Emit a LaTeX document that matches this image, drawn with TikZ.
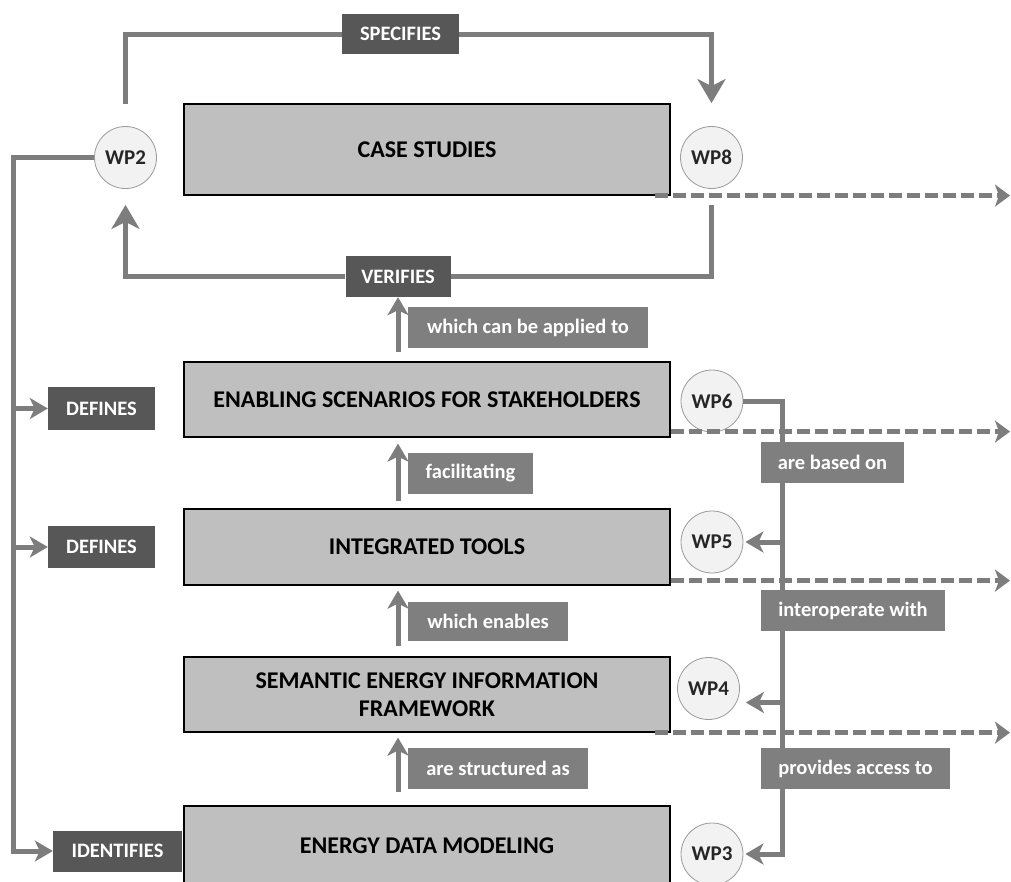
\documentclass[tikz,border=0pt]{standalone}
\usepackage{fontspec}
\setmainfont{Carlito}
\usetikzlibrary{arrows.meta}
\definecolor{boxgray}{HTML}{BFBFBF}
\definecolor{linegray}{HTML}{7D7D7D}
\definecolor{darklab}{HTML}{575757}
\definecolor{lightlab}{HTML}{7F7F7F}
\definecolor{circfill}{HTML}{F2F2F2}
\definecolor{circline}{HTML}{9A9A9A}
\definecolor{wptext}{HTML}{262626}

\begin{document}
\begin{tikzpicture}[x=1pt,y=-1pt,
  box/.style={draw=black, line width=1.2pt, fill=boxgray, minimum width=486pt,
    inner sep=0pt, align=center, font=\bfseries\fontsize{24}{28}\selectfont},
  wp/.style={circle, draw=circline, line width=0.8pt, fill=circfill, minimum size=62pt,
    inner sep=0pt, text=wptext, font=\bfseries\fontsize{21}{24}\selectfont},
  darklbl/.style={fill=darklab, text=white, inner sep=0pt, minimum height=41pt,
    font=\bfseries\fontsize{20.5}{24}\selectfont},
  lightlbl/.style={fill=lightlab, text=white, inner sep=0pt, minimum height=41pt,
    font=\bfseries\fontsize{20.5}{24}\selectfont},
  conn/.style={draw=linegray, line width=5pt},
  bigtip/.style={-{Stealth[length=24pt, width=28pt, inset=7pt]}},
  smalltip/.style={-{Stealth[length=18pt, width=21pt, inset=5pt]}},
  dashline/.style={draw=linegray, line width=5pt, dash pattern=on 13pt off 5pt,
    -{Stealth[length=15pt, width=22pt, inset=4pt]}}
]
\clip (0,0) rectangle (1011,881);

% work package boxes
\node[box, minimum height=91pt] (cs) at (427,149.5) {CASE STUDIES};
\node[box, minimum height=75pt] (es) at (427,399.5) {ENABLING SCENARIOS FOR STAKEHOLDERS};
\node[box, minimum height=76pt] (it) at (427,547) {INTEGRATED TOOLS};
\node[box, minimum height=75pt] (sf) at (427,694.5) {SEMANTIC ENERGY INFORMATION\\FRAMEWORK};
\node[box, minimum height=80pt] (ed) at (427,846) {ENERGY DATA MODELING};

% work package markers
\node[wp] (wp2) at (125.5,157.5) {WP2};
\node[wp] (wp8) at (711.5,157.5) {WP8};
\node[wp] (wp6) at (712,401) {WP6};
\node[wp] (wp5) at (712,542) {WP5};
\node[wp] (wp4) at (708.5,688.5) {WP4};
\node[wp] (wp3) at (712,854) {WP3};

% relation labels
\node[darklbl, minimum width=117pt, minimum height=40pt] (specifies) at (400.5,34) {SPECIFIES};
\node[darklbl, minimum width=105pt] (verifies) at (398,276.5) {VERIFIES};
\node[darklbl, minimum width=107pt, minimum height=43pt] (def1) at (101.5,408.5) {DEFINES};
\node[darklbl, minimum width=107pt, minimum height=42pt] (def2) at (101.5,547) {DEFINES};
\node[darklbl, minimum width=129pt] (ident) at (117.5,851) {IDENTIFIES};
\node[lightlbl, minimum width=240pt] (applied) at (528,327.5) {which can be applied to};
\node[lightlbl, minimum width=125pt] (facil) at (470.5,473.5) {facilitating};
\node[lightlbl, minimum width=160pt, minimum height=39pt] (enables) at (488,621.5) {which enables};
\node[lightlbl, minimum width=180pt] (struct) at (498,768.5) {are structured as};
\node[lightlbl, minimum width=143pt] (based) at (832.5,462.5) {are based on};
\node[lightlbl, minimum width=184pt] (interop) at (853,610.5) {interoperate with};
\node[lightlbl, minimum width=189pt] (access) at (855.5,768.5) {provides access to};

% bus lines and the right margin
\coordinate (lbus) at (13,0);
\coordinate (rbus) at (782,0);
\coordinate (edge) at (1010,0);

% outputs leaving to the right
\draw[dashline] ([xshift=-16pt]cs.south east) -- (cs.south east -| edge);
\draw[dashline] ([yshift=6pt]es.south east) -- ([yshift=6pt]es.south east -| edge);
\draw[dashline] ([yshift=5pt]it.south east) -- ([yshift=5pt]it.south east -| edge);
\draw[dashline] ([xshift=-16pt]sf.south east) -- (sf.south east -| edge);

% specify / verify loop between WP2 and WP8
\draw[conn, shorten <=22pt] (wp2.north) |- (specifies.west);
\draw[conn, bigtip, shorten >=23pt] (specifies.east) -| (wp8.north);
\draw[conn, shorten <=16pt] (wp8.south) |- (verifies.east);
\draw[conn, bigtip, shorten >=16pt] (verifies.west) -| (wp2.south);

% upward chain of boxes
\draw[conn, smalltip, shorten <=9pt] ([xshift=-29pt]es.north) -- (verifies.south);
\draw[conn, smalltip, shorten <=7pt, shorten >=6pt] ([xshift=-29pt]it.north) -- ([xshift=-29pt]es.south);
\draw[conn, smalltip, shorten <=10pt, shorten >=5pt] ([xshift=-29pt]sf.north) -- ([xshift=-29pt]it.south);
\draw[conn, smalltip, shorten <=13pt, shorten >=5pt] ([xshift=-29pt]ed.north) -- ([xshift=-29pt]sf.south);

% WP2 defines / identifies
\draw[conn, smalltip] (wp2.west) -- (wp2.west -| lbus) |- (ident.west);
\draw[conn, smalltip] (def1.west -| lbus) -- (def1.west);
\draw[conn, smalltip] (def2.west -| lbus) -- (def2.west);

% WP6 down to WP5, WP4 and WP3
\draw[conn] (wp6.east) -- (wp6.east -| rbus) -- (based.north -| rbus);
\draw[conn] (based.south -| rbus) -- (interop.north -| rbus);
\draw[conn] (interop.south -| rbus) -- (access.north -| rbus);
\draw[conn, smalltip, shorten >=2pt] (access.south -| rbus) |- (wp3.east);
\draw[conn, smalltip, shorten >=2pt] (wp5.east -| rbus) -- (wp5.east);
\draw[conn, smalltip, shorten >=6pt] ([yshift=-14pt]wp4.east -| rbus) -- ([yshift=-14pt]wp4.east);
\end{tikzpicture}
\end{document}
